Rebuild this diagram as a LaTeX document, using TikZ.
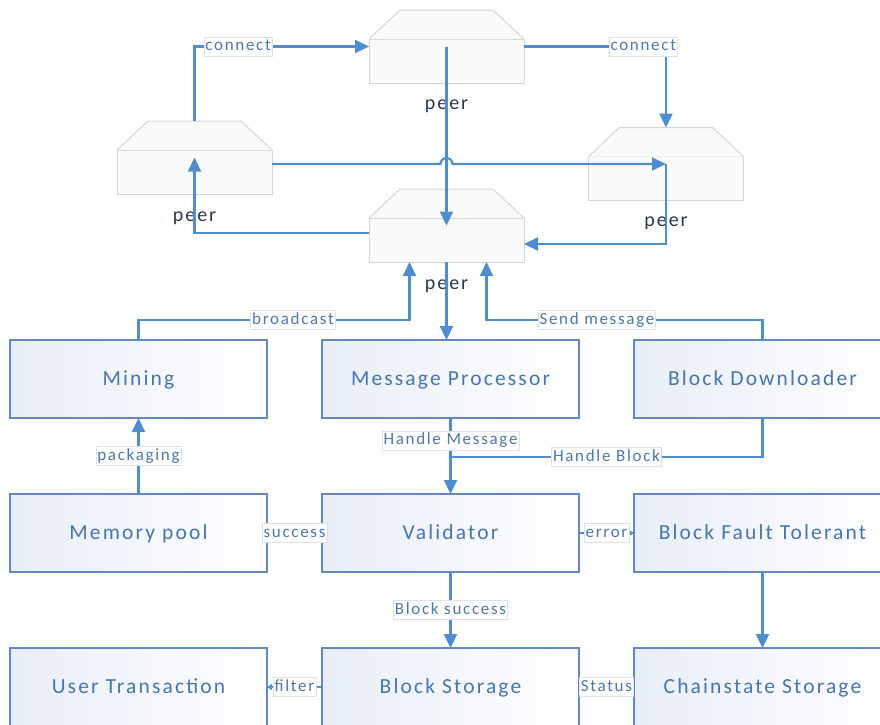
\documentclass[tikz,border=0pt]{standalone}
\usepackage{fontspec}
\setmainfont{Carlito}[LetterSpace=10]
\usetikzlibrary{arrows.meta, positioning}

\definecolor{flowblue}{RGB}{79,141,207}
\definecolor{boxline}{RGB}{98,137,186}
\definecolor{boxtext}{RGB}{72,118,172}
\definecolor{boxshade}{RGB}{232,238,248}
\definecolor{tagtext}{RGB}{80,120,165}
\definecolor{tagline}{RGB}{222,226,232}
\definecolor{peerline}{RGB}{214,214,214}
\definecolor{peerfill}{RGB}{250,250,250}
\definecolor{peerink}{RGB}{40,55,80}

\begin{document}
\begin{tikzpicture}[%
        x = 1pt, y = -1pt,
        module/.style = {%
            draw = boxline, line width = 1.6pt,
            left color = boxshade, right color = white,
            minimum width = 257pt, minimum height = 78pt,
            inner sep = 0pt, outer sep = 0pt,
            text height = 14pt, text depth = 0.5pt,
            text = boxtext, font = \fontsize{21.5}{24}\selectfont
        },
        peer/.style = {%
            minimum width = 155pt, minimum height = 73pt,
            inner sep = 0pt, outer sep = 0pt
        },
        peerline/.style = {draw = peerline, fill = peerfill, line width = 1pt},
        peertext/.style = {%
            text = peerink, inner sep = 0pt,
            font = \fontsize{20}{24}\selectfont
        },
        flow/.style = {%
            draw = flowblue, line width = 2.2pt,
            -{Triangle[length = 14pt, width = 13pt]}
        },
        tag/.style = {%
            fill = white, draw = tagline, line width = 0.6pt,
            text = tagtext, inner xsep = 1.5pt, inner ysep = 2pt,
            text height = 11.5pt, text depth = 3.5pt,
            font = \fontsize{17}{19}\selectfont
        }
    ]

        % Fix the page to the size of the drawing.
        \useasboundingbox (0,0) rectangle (880,724);

        % The four peers of the network.
        \node[peer] (peerT) at (446.5,46.5) {};
        \node[peer] (peerL) at (194.5,157.5) {};
        \node[peer] (peerB) at (446.5,225.5) {};
        \node[peer] (peerR) at (666,164) {};

        % Each peer is a box with a sloped roof on top.
        \foreach\p in {peerT, peerL, peerB, peerR}{%
            \path[peerline] (\p.south west) rectangle ([yshift = -29pt]\p.north east);
            \path[peerline] ([yshift = -29pt]\p.north west) -- ([xshift = 31pt]\p.north west)
                -- ([xshift = -31pt]\p.north east) -- ([yshift = -29pt]\p.north east);
        }

        % Peer captions.
        \node[peertext] (peerTtext) at ([yshift = -23pt]peerT.south) {peer};
        \node[peertext] (peerLtext) at ([yshift = -24pt]peerL.south) {peer};
        \node[peertext] (peerBtext) at ([yshift = -24pt]peerB.south) {peer};
        \node[peertext] (peerRtext) at ([yshift = -23pt]peerR.south) {peer};

        % The modules, in three rows.
        \node[module] (mining) at (138.5,379) {Mining};
        \node[module, right = 55pt of mining] (msg) {Message Processor};
        \node[module, right = 55pt of msg] (dl) {Block Downloader};
        \node[module, below = 76pt of mining] (mem) {Memory pool};
        \node[module, below = 76pt of msg] (val) {Validator};
        \node[module, below = 76pt of dl] (bft) {Block Fault Tolerant};
        \node[module, below = 76pt of mem] (user) {User Transaction};
        \node[module, below = 76pt of val] (store) {Block Storage};
        \node[module, below = 76pt of bft] (chain) {Chainstate Storage};

        % Where the upward links enter the lower peer.
        \coordinate (castIn) at ([xshift = -37pt]peerB.south);
        \coordinate (sendIn) at ([xshift = 40pt]peerB.south);

        % Links between the peers.
        \draw[flow] (peerL.north) |- node[tag, pos = 0.625] {connect} (peerT.west);
        \draw[flow] (peerT.east) -| node[tag, pos = 0.42] {connect} (peerR.north);
        \draw[flow] (peerT.center) -- (peerB.center);
        \draw[flow] ([yshift = -6.5pt]peerL.east) -- ([xshift = -6pt]peerT.center |- peerR.center)
            arc[start angle = 180, end angle = 0, radius = 6pt] -- (peerR.center);
        \draw[flow] (peerR.center) |- ([yshift = -18.5pt]peerB.east);
        \draw[flow] ([yshift = -7.5pt]peerB.west) -| (peerL.center);

        % Links between the peers and the modules.
        \draw[flow] (peerB.south) -- (peerB.south |- msg.north);
        \draw[flow] (mining.north) -- ++(0,-20) -| node[tag, pos = 0.285] {broadcast} (castIn);
        \draw[flow] (dl.north) -- ++(0,-20) -| node[tag, pos = 0.3] {Send message} (sendIn);

        % Links between the modules.
        \draw[flow] (msg.south) -- node[tag, pos = 0.3] {Handle Message} (val.north);
        \draw[flow, -] (dl.south) |- node[tag, pos = 0.75] {Handle Block} (val.north |- 0,457);
        \draw[flow] (mem.north) -- node[tag] {packaging} (mining.south);
        \draw[flow, -] (val.west) -- node[tag] {success} (mem.east);
        \draw[flow, -{Triangle[length = 5pt, width = 6pt]}] (val.east) -- node[tag] {error} (bft.west);
        \draw[flow] (val.south) -- node[tag] {Block success} (store.north);
        \draw[flow] (bft.south) -- (chain.north);
        \draw[flow, -{Triangle[length = 5pt, width = 6pt]}] (store.west) -- node[tag] {filter} (user.east);
        \draw[flow, -] (store.east) -- node[tag] {Status} (chain.west);
    \end{tikzpicture}
\end{document}
